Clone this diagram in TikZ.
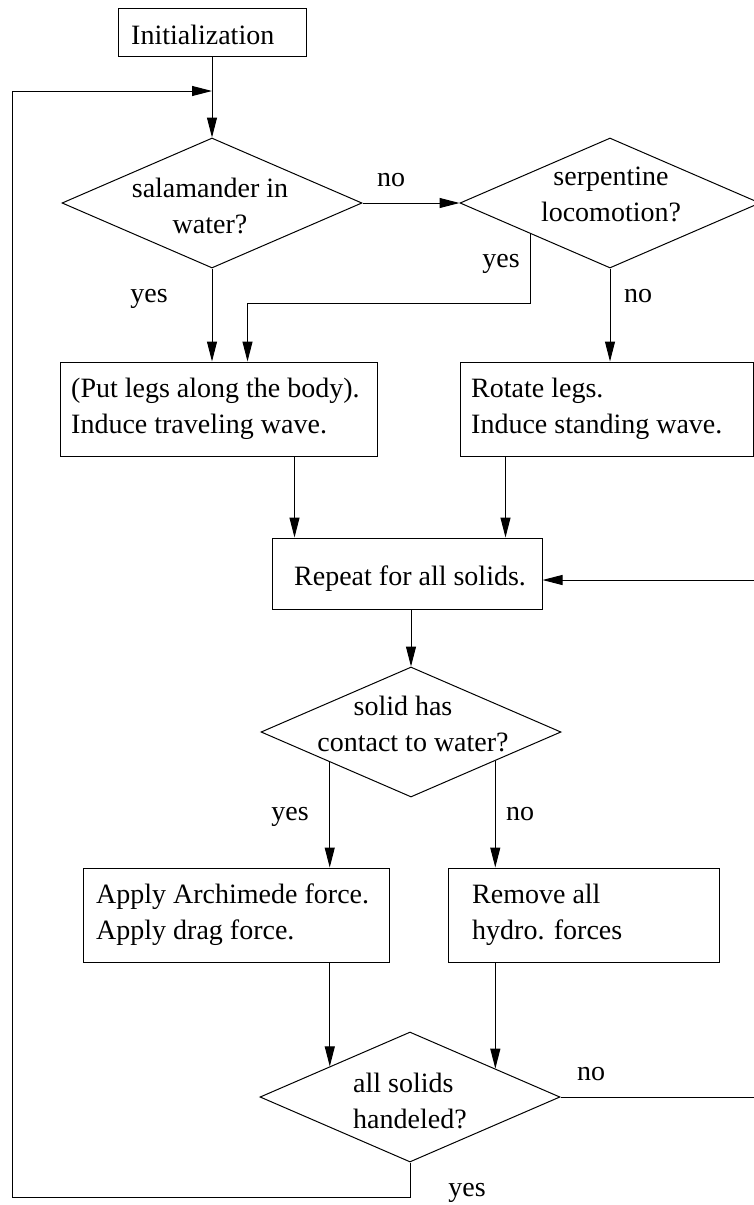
\documentclass[tikz,border=0pt]{standalone}
\usepackage{fontspec}
\setmainfont{Liberation Serif}
\usetikzlibrary{arrows.meta,shapes.geometric,calc}
\begin{document}
\begin{tikzpicture}[x=1pt,y=-1pt,
  every node/.style={font=\fontsize{28pt}{36pt}\selectfont},
  boxnode/.style={draw, line width=1pt, rectangle, inner sep=0pt},
  decision/.style={draw, line width=1pt, diamond, inner sep=0pt, minimum width=300pt, minimum height=130pt},
  txt/.style={inner sep=0pt, anchor=base west},
  ctxt/.style={inner sep=0pt, anchor=base},
  arr/.style={line width=1pt, -{Triangle[length=20pt,width=10pt]}}]
\useasboundingbox (0,0) rectangle (754,1205);

% boxes
\node[boxnode, minimum width=188pt, minimum height=47.5pt] (init) at (212,32.5) {};
\node[boxnode, minimum width=317pt, minimum height=94pt] (bl) at (218.5,409) {};
\node[boxnode, minimum width=293pt, minimum height=94pt] (br) at (606.5,409) {};
\node[boxnode, minimum width=270pt, minimum height=71pt] (rep) at (407,573.5) {};
\node[boxnode, minimum width=306pt, minimum height=94pt] (bll) at (236,915) {};
\node[boxnode, minimum width=271pt, minimum height=94pt] (blr) at (583.5,915) {};

% decisions
\node[decision] (d1) at (212,203) {};
\node[decision] (d2) at (610,203) {};
\node[decision] (d3) at (411,732) {};
\node[decision] (d4) at (410,1097) {};

% texts
\node[txt] (initT) at (131,44) {Initialization};
\node[ctxt] (d1T) at (210,197) {\begin{tabular}[t]{@{}c@{}}salamander in\\ water?\end{tabular}};
\node[ctxt] (d2T) at (611,185) {\begin{tabular}[t]{@{}c@{}}serpentine\\ locomotion?\end{tabular}};
\node[txt] (blT) at (71,397) {\begin{tabular}[t]{@{}l@{}}(Put legs along the body).\\ Induce traveling wave.\end{tabular}};
\node[txt] (brT) at (471,397) {\begin{tabular}[t]{@{}l@{}}Rotate legs.\\ Induce standing wave.\end{tabular}};
\node[txt] (repT) at (294,585) {Repeat for all solids.};
\node[ctxt] (d3T) at (410,715) {\begin{tabular}[t]{@{}c@{}}solid has\hspace*{14pt}\\ \hspace*{6pt}contact to water?\end{tabular}};
\node[txt] (bllT) at (96,903) {\begin{tabular}[t]{@{}l@{}}Apply Archimede force.\\ Apply drag force.\end{tabular}};
\node[txt] (blrT) at (472,903) {\begin{tabular}[t]{@{}l@{}}Remove all\\ hydro. forces\end{tabular}};
\node[txt] (d4T) at (353,1092) {\begin{tabular}[t]{@{}l@{}}all solids\\ handeled?\end{tabular}};

% labels
\node[ctxt] (no1) at (391,186) {no};
\node[ctxt] (yes2) at (501,267) {yes};
\node[ctxt] (yes1) at (149,302) {yes};
\node[ctxt] (no2) at (638,302) {no};
\node[ctxt] (yes3) at (290,820) {yes};
\node[ctxt] (no3) at (520,820) {no};
\node[ctxt] (no4) at (591,1080) {no};
\node[ctxt] (yes4) at (467,1196) {yes};

% helper coordinates
\coordinate (mrg) at (212,91);
\coordinate (d2y) at ($(d2.west)!0.47!(d2.south)$);
\coordinate (blin) at ($(bl.north west)+(188,0)$);
\coordinate (blo) at ($(bl.south west)+(235,0)$);
\coordinate (bro) at ($(br.south west)+(46,0)$);
\coordinate (d3l) at ($(d3.west)!0.46!(d3.south)$);
\coordinate (d3r) at ($(d3.east)!0.44!(d3.south)$);
\coordinate (d4l) at ($(d4.west)!0.467!(d4.north)$);
\coordinate (d4r) at ($(d4.east)!0.433!(d4.north)$);
\coordinate (rpin) at ([yshift=-6.5pt]rep.east);

% connectors
\draw[arr] (init.south) -- (d1.north);
\draw[arr] (d1.east) -- (d2.west);
\draw[arr] (d1.south) -- (d1.south |- bl.north);
\draw[arr] (d2y) |- (blin |- 0,303) -- (blin);
\draw[arr] (d2.south) -- (d2.south |- br.north);
\draw[arr] (blo) -- (blo |- rep.north);
\draw[arr] (bro) -- (bro |- rep.north);
\draw[arr] (d3.north |- rep.south) -- (d3.north);
\draw[arr] (d3l) -- (d3l |- bll.north);
\draw[arr] (d3r) -- (d3r |- blr.north);
\draw[arr] (bll.south -| d4l) -- (d4l);
\draw[arr] (blr.south -| d4r) -- (d4r);
\draw[arr] (d4.east) -- (d4.east -| 758,0) |- (rpin);
\draw[arr] (d4.south) -- (d4.south |- 0,1197) -| (mrg -| 12,0) -- (mrg);
\end{tikzpicture}
\end{document}
